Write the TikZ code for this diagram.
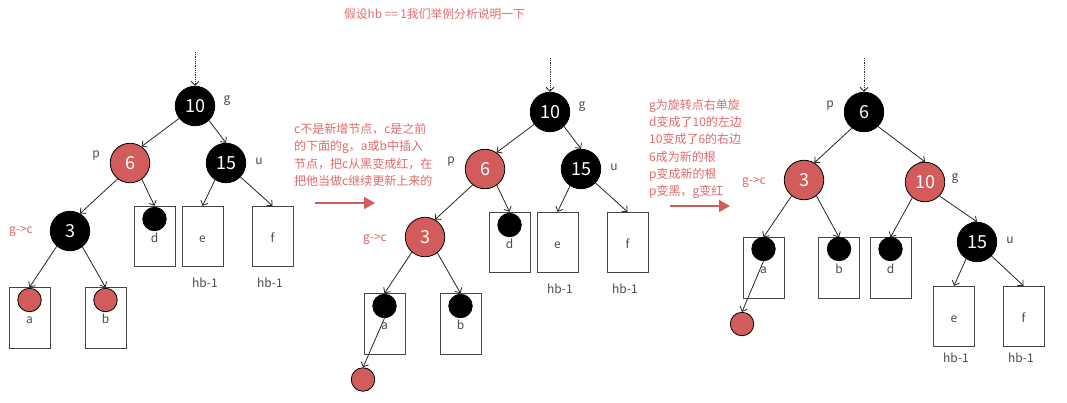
\documentclass[tikz,border=0pt]{standalone}
\usepackage{fontspec}
\setmainfont{Noto Sans CJK SC}
\definecolor{rednode}{HTML}{D25C5B}
\definecolor{redtext}{HTML}{E0696A}
\definecolor{graytext}{HTML}{4A4A4A}
\definecolor{boxline}{HTML}{444444}
\usetikzlibrary{arrows.meta, positioning}

\begin{document}
\begin{tikzpicture}[
  on grid,
  font=\fontsize{12}{17.2}\selectfont,
  blacknode/.style={circle, minimum size=39.5pt, inner sep=0pt, fill=black, draw=black, line width=0.8pt, text=white, font=\fontsize{18}{20}\selectfont},
  rednode/.style={blacknode, fill=rednode},
  blackdot/.style={circle, minimum size=23.5pt, inner sep=0pt, fill=black, draw=black, line width=0.8pt},
  reddot/.style={blackdot, fill=rednode},
  subtree/.style={rectangle, minimum width=41pt, minimum height=60.5pt, inner sep=0pt, text height=11.6pt, text depth=0pt, draw=boxline, line width=0.9pt, text=graytext},
  tag/.style={inner sep=0pt, text=graytext},
  redtag/.style={inner sep=0pt, text=redtext},
  note/.style={inner sep=0pt, text=redtext, align=left, anchor=west},
  arrow/.style={-{Straight Barb[length=4pt,width=8pt]}, line width=0.8pt, color=black!85},
  entry/.style={arrow, densely dotted},
  step arrow/.style={-{Triangle[length=11pt,width=12pt]}, line width=1.6pt, color=rednode}
]
  \useasboundingbox (0pt,0pt) rectangle (1067pt,-402pt);

  \node[redtag, font=\fontsize{11.8}{14}\selectfont] (title) at (434.5pt,-14pt) {假设hb == 1我们举例分析说明一下};
  \node[note] (notea) at (294pt,-155pt) {c不是新增节点，c是之前\\的下面的g，a或b中插入\\节点，把c从黑变成红，在\\把他当做c继续更新上来的};
  \node[note] (noteb) at (649pt,-149pt) {g为旋转点右单旋\\d变成了10的左边\\10变成了6的右边\\6成为新的根\\p变成新的根\\p变黑，g变红};
  \coordinate (stepa) at (315pt,-203pt);
  \coordinate[right=60pt of stepa] (stepaend);
  \coordinate (stepb) at (670pt,-206pt);
  \coordinate[right=60pt of stepb] (stepbend);
  \draw[step arrow] (stepa) -- (stepaend);
  \draw[step arrow] (stepb) -- (stepbend);

  \node[blacknode] (g1) at (195pt,-106pt) {10};
  \node[rednode, below left=57pt and 65pt of g1] (p1) {6};
  \node[blacknode, below right=57pt and 31pt of g1] (u1) {15};
  \node[blacknode, below left=68pt and 60pt of p1] (c1) {3};
  \node[subtree, below right=73.5pt and 24.5pt of p1] (td1) {d};
  \node[subtree, below left=73.5pt and 23.5pt of u1] (te1) {e};
  \node[subtree, below right=73.5pt and 46.5pt of u1] (tf1) {f};
  \node[subtree, below left=87pt and 40.5pt of c1] (ta1) {a};
  \node[subtree, below right=87pt and 35.5pt of c1] (tb1) {b};
  \node[blackdot, above=17.5pt of td1] (bd1) {};
  \node[reddot, above=18pt of ta1] (ba1) {};
  \node[reddot, above=18pt of tb1] (bb1) {};
  \node[tag, above right=5pt and 32pt of g1] (gtag1) {g};
  \node[tag, above left=7pt and 34pt of p1] (ptag1) {p};
  \node[tag, above right=2pt and 33pt of u1] (utag1) {u};
  \node[redtag, left=49pt of c1] (ctag1) {g->c};
  \node[tag, below right=46.5pt and 2.5pt of te1] (hbe1) {hb-1};
  \node[tag, below left=46.5pt and 2.5pt of tf1] (hbf1) {hb-1};
  \coordinate[above=54pt of g1] (in1);

  \draw[entry] (in1) -- (g1.north);
  \draw[arrow] (g1.218) -- (p1.55);
  \draw[arrow] (g1.314) -- (u1.north);
  \draw[arrow] (p1.232) -- (c1.60);
  \draw[arrow] (p1.306) -- (td1.north);
  \draw[arrow] (u1.237) -- (te1.north);
  \draw[arrow] (u1.316) -- (tf1.north);
  \draw[arrow] (c1.229) -- (ta1.north);
  \draw[arrow] (c1.308) -- (tb1.north);

  \node[blacknode] (g2) at (550pt,-112pt) {10};
  \node[rednode, below left=57pt and 65pt of g2] (p2) {6};
  \node[blacknode, below right=57pt and 31pt of g2] (u2) {15};
  \node[rednode, below left=68pt and 60pt of p2] (c2) {3};
  \node[subtree, below right=73.5pt and 24.5pt of p2] (td2) {d};
  \node[subtree, below left=73.5pt and 23.5pt of u2] (te2) {e};
  \node[subtree, below right=73.5pt and 46.5pt of u2] (tf2) {f};
  \node[subtree, below left=87pt and 40.5pt of c2] (ta2) {a};
  \node[subtree, below right=87pt and 35.5pt of c2] (tb2) {b};
  \node[blackdot, above=17.5pt of td2] (bd2) {};
  \node[blackdot, above=18pt of ta2] (ba2) {};
  \node[blackdot, above=18pt of tb2] (bb2) {};
  \node[reddot, below left=55.5pt and 21.5pt of ta2] (new2) {};
  \node[tag, above right=5pt and 32pt of g2] (gtag2) {g};
  \node[tag, above left=7pt and 34pt of p2] (ptag2) {p};
  \node[tag, above right=2pt and 33pt of u2] (utag2) {u};
  \node[redtag, below left=2pt and 50pt of c2] (ctag2) {g->c};
  \node[tag, below right=46.5pt and 2.5pt of te2] (hbe2) {hb-1};
  \node[tag, below left=46.5pt and 2.5pt of tf2] (hbf2) {hb-1};
  \coordinate[above=54pt of g2] (in2);

  \draw[entry] (in2) -- (g2.north);
  \draw[arrow] (g2.218) -- (p2.55);
  \draw[arrow] (g2.314) -- (u2.north);
  \draw[arrow] (p2.232) -- (c2.60);
  \draw[arrow] (p2.306) -- (td2.north);
  \draw[arrow] (u2.237) -- (te2.north);
  \draw[arrow] (u2.316) -- (tf2.north);
  \draw[arrow] (c2.229) -- (ta2.north);
  \draw[arrow] (c2.308) -- (tb2.north);
  \draw[arrow] (ba2.south) -- (new2.north);

  \node[blacknode] (p3) at (864pt,-112pt) {6};
  \node[rednode, below left=68pt and 60pt of p3] (c3) {3};
  \node[rednode, below right=70pt and 61pt of p3] (g3) {10};
  \node[blacknode, below right=60pt and 52pt of g3] (u3) {15};
  \node[subtree, below left=88pt and 40.5pt of c3] (ta3) {a};
  \node[subtree, below right=88pt and 35pt of c3] (tb3) {b};
  \node[subtree, below left=86pt and 34.5pt of g3] (td3) {d};
  \node[subtree, below left=74.5pt and 23pt of u3] (te3) {e};
  \node[subtree, below right=74.5pt and 46.5pt of u3] (tf3) {f};
  \node[blackdot, above=19pt of ta3] (ba3) {};
  \node[blackdot, above=19pt of tb3] (bb3) {};
  \node[blackdot, above=19pt of td3] (bd3) {};
  \node[reddot, below left=56pt and 21.5pt of ta3] (new3) {};
  \node[tag, above left=6pt and 34pt of p3] (ptag3) {p};
  \node[tag, above right=3pt and 30pt of g3] (gtag3) {g};
  \node[tag, above right=2pt and 33pt of u3] (utag3) {u};
  \node[redtag, above left=-2pt and 50pt of c3] (ctag3) {g->c};
  \node[tag, below right=41.5pt and 2pt of te3] (hbe3) {hb-1};
  \node[tag, below left=41.5pt and 2.5pt of tf3] (hbf3) {hb-1};
  \coordinate[above=54pt of p3] (in3);

  \draw[entry] (in3) -- (p3.north);
  \draw[arrow] (p3.233) -- (c3.59);
  \draw[arrow] (p3.314) -- (g3.north);
  \draw[arrow] (c3.232) -- (ta3.north);
  \draw[arrow] (c3.308) -- (tb3.north);
  \draw[arrow] (g3.231) -- (td3.north);
  \draw[arrow] (g3.316) -- (u3.north);
  \draw[arrow] (u3.237) -- (te3.north);
  \draw[arrow] (u3.316) -- (tf3.north);
  \draw[arrow] (ba3.south) -- (new3.north);
\end{tikzpicture}
\end{document}
